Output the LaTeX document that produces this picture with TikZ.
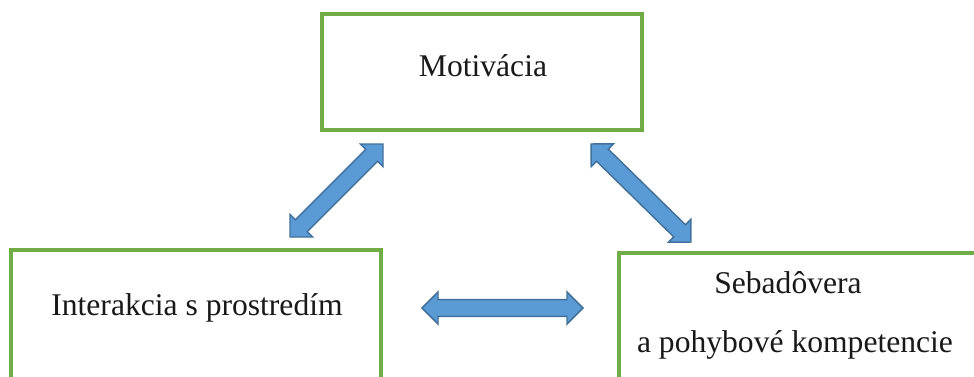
\documentclass[tikz,border=0pt]{standalone}
\usepackage{fontspec}
\setmainfont{Liberation Serif}
\newfontfamily\boxfont{Liberation Serif}
\usetikzlibrary{calc}
\definecolor{boxgreen}{RGB}{112,173,71}
\definecolor{arrowfill}{RGB}{91,155,213}
\definecolor{arrowline}{RGB}{65,113,156}

\begin{document}
\begin{tikzpicture}[x=0.75pt,y=-0.75pt,
  box/.style={draw=boxgreen,line width=2.6pt,fill=white,inner sep=0pt},
  boxtext/.style={font=\boxfont\fontsize{23.7}{28}\selectfont,text=black!90,anchor=base,inner sep=0pt},
  dbl/.style={fill=arrowfill,draw=arrowline,line width=1.1pt,line join=miter},
]
\useasboundingbox (0,0) rectangle (974,376);
% boxes
\node[box,minimum width=240pt,minimum height=87pt] (motiv) at (482,72) {};
\node[box,minimum width=277.5pt,minimum height=127.5pt] (inter) at (196,335) {};
\node[box,minimum width=308.25pt,minimum height=125.25pt] (seba) at (824.5,336.5) {};
\node[boxtext] (motivtext) at (483,76) {Motivácia};
\node[boxtext] (intertext) at (197,315) {Interakcia s prostredím};
\node[boxtext] (sebatext) at (788,293) {Sebadôvera};
\node[boxtext] (pohybtext) at (795,352) {a pohybové kompetencie};
% arrow tips
\coordinate (motivL) at (383,144);
\coordinate (interT) at (290,237);
\coordinate (motivR) at (591,144);
\coordinate (sebaT) at (691,242);
\coordinate (interR) at (422,308);
\coordinate (sebaL) at (583,308);
\foreach \a/\b in {motivL/interT,motivR/sebaT,interR/sebaL}{
  \filldraw[dbl] (\a)
    -- ($(\a)!12pt!(\b)!12pt!90:(\b)$)
    -- ($(\a)!12pt!(\b)!6.3pt!90:(\b)$)
    -- ($(\b)!12pt!(\a)!6.3pt!-90:(\a)$)
    -- ($(\b)!12pt!(\a)!12pt!-90:(\a)$)
    -- (\b)
    -- ($(\b)!12pt!(\a)!12pt!90:(\a)$)
    -- ($(\b)!12pt!(\a)!6.3pt!90:(\a)$)
    -- ($(\a)!12pt!(\b)!6.3pt!-90:(\b)$)
    -- ($(\a)!12pt!(\b)!12pt!-90:(\b)$)
    -- cycle;
}
\end{tikzpicture}
\end{document}
